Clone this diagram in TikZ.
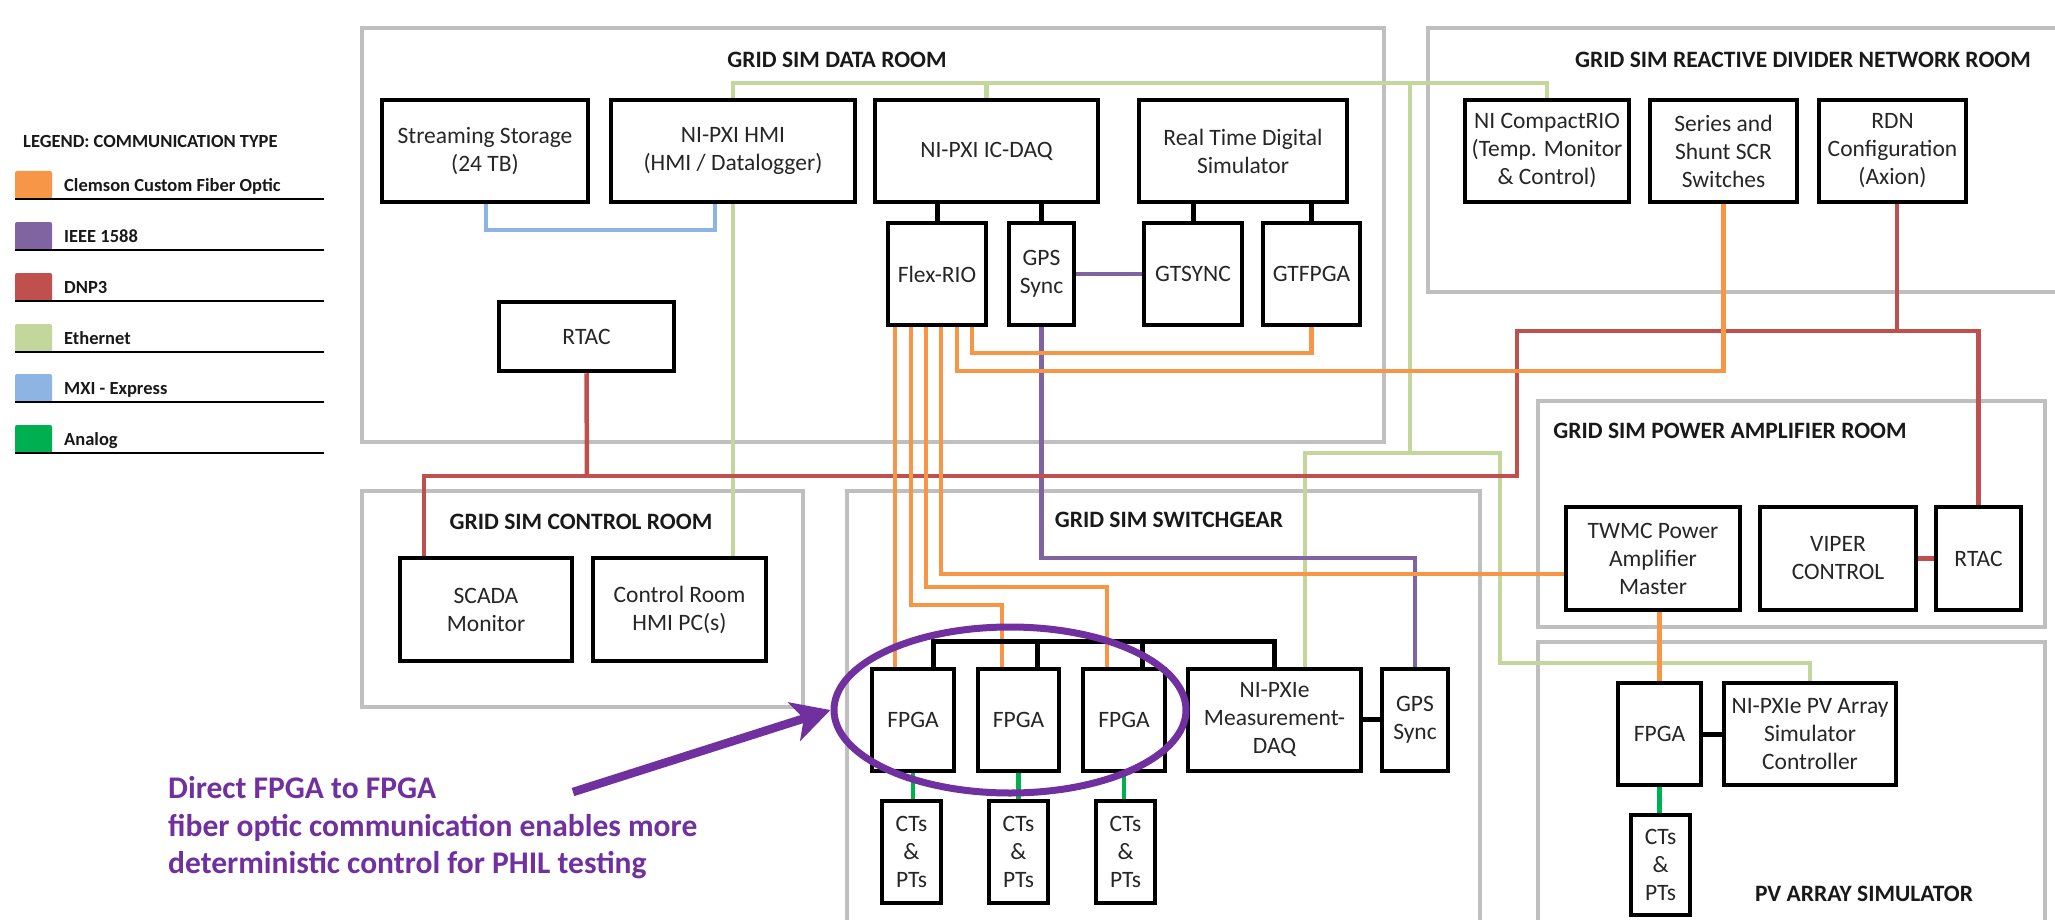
\documentclass[tikz,border=0pt]{standalone}
\usepackage{fontspec}
\setmainfont{Carlito}
\usetikzlibrary{arrows.meta,shapes.geometric}
\definecolor{fiber}{HTML}{F79646}
\definecolor{ieee}{HTML}{8064A2}
\definecolor{dnp}{HTML}{C0504D}
\definecolor{ether}{HTML}{C3D69B}
\definecolor{mxi}{HTML}{8DB4E2}
\definecolor{analog}{HTML}{00B050}
\definecolor{roomgrey}{HTML}{BFBFBF}
\definecolor{note}{HTML}{7030A0}
\definecolor{txt}{HTML}{262626}
\pgfdeclarelayer{bg}
\pgfsetlayers{bg,main}
\newcommand\bx[7][]{%
  \pgfmathsetmacro\bxw{#5-#3-4}%
  \pgfmathsetmacro\bxh{#6-#4-4}%
  \pgfmathsetmacro\bxcx{(#3+#5)/2}%
  \pgfmathsetmacro\bxcy{(#4+#6)/2}%
  \node[devbox,minimum width=\bxw pt,minimum height=\bxh pt,#1] (#2) at (\bxcx,\bxcy) {#7};}
\newcommand\legrow[4]{%
  \node[swatch,fill=#2] (sw#4) at (33.5,#1) {};
  \draw[legline] (15,#1+14) -- (324,#1+14);
  \node[legtext] (lt#4) at (64,#1+6.5) {#3};}
\tikzset{
  devbox/.style={draw=black,line width=4.5pt,fill=white,align=center,inner sep=0pt,text=txt,font=\fontsize{23.5}{28}\selectfont},
  room/.style={draw=roomgrey,line width=4.5pt},
  roomtitle/.style={font=\bfseries\fontsize{23.5}{28}\selectfont,text=black!90,inner sep=0pt},
  link/.style={line width=4.5pt},
  fib/.style={link,draw=fiber},
  ieeel/.style={link,draw=ieee},
  dnpl/.style={link,draw=dnp},
  eth/.style={link,draw=ether},
  mxil/.style={link,draw=mxi},
  ana/.style={link,draw=analog},
  blk/.style={line width=5pt,draw=black},
  swatch/.style={rounded corners=2pt,minimum width=37pt,minimum height=28pt,inner sep=0pt,draw=none},
  legline/.style={line width=1.8pt,draw=black},
  legtext/.style={anchor=base west,inner sep=0pt,font=\bfseries\fontsize{18.5}{22}\selectfont,text=black!90},
  notetext/.style={anchor=base west,inner sep=0pt,text=note,font=\bfseries\fontsize{31.5}{37.5}\selectfont},
}
\begin{document}
\begin{tikzpicture}[x=1pt,y=-1pt]
\useasboundingbox (0,0) rectangle (2055,920);

% legend
\node[anchor=west,inner sep=0pt,font=\bfseries\fontsize{18.5}{22}\selectfont,text=black!90] (legtitle) at (23,142) {LEGEND: COMMUNICATION TYPE};
\legrow{185}{fiber}{Clemson Custom Fiber Optic}{a}
\legrow{236}{ieee}{IEEE 1588}{b}
\legrow{287}{dnp}{DNP3}{c}
\legrow{338}{ether}{Ethernet}{d}
\legrow{388}{mxi}{MXI - Express}{e}
\legrow{439}{analog}{Analog}{f}

% room titles
\node[roomtitle] (tdata) at (837,60) {GRID SIM DATA ROOM};
\node[roomtitle] (trdn) at (1803,60) {GRID SIM REACTIVE DIVIDER NETWORK ROOM};
\node[roomtitle] (tctrl) at (581,522) {GRID SIM CONTROL ROOM};
\node[roomtitle] (tsw) at (1169,520) {GRID SIM SWITCHGEAR};
\node[roomtitle] (tpa) at (1730,431) {GRID SIM POWER AMPLIFIER ROOM};
\node[roomtitle] (tpv) at (1864,894) {PV ARRAY SIMULATOR};

% devices
\bx{stor}{380}{98}{590}{204}{Streaming Storage\\(24 TB)}
\bx{hmi}{609}{98}{857}{204}{NI-PXI HMI\\(HMI / Datalogger)}
\bx{icdaq}{873}{98}{1100}{204}{NI-PXI IC-DAQ}
\bx{rtds}{1137}{98}{1349}{204}{Real Time Digital\\Simulator}
\bx{crio}{1463}{98}{1631}{204}{NI CompactRIO\\(Temp. Monitor\\\& Control)}
\bx{scr}{1648}{98}{1799}{204}{Series and\\Shunt SCR\\Switches}
\bx{rdn}{1817}{98}{1968}{204}{RDN\\Configuration\\(Axion)}
\bx{flex}{886}{221}{988}{327}{Flex-RIO}
\bx{gpsa}{1007}{221}{1076}{327}{GPS\\Sync}
\bx{gtsync}{1142}{221}{1244}{327}{GTSYNC}
\bx{gtfpga}{1261}{221}{1362}{327}{GTFPGA}
\bx{rtaca}{497}{300}{676}{373}{RTAC}
\bx{scada}{398}{556}{574}{663}{SCADA\\Monitor}
\bx{crhmi}{591}{556}{768}{663}{Control Room\\HMI PC(s)}
\bx{fpgaa}{870}{667}{956}{773}{FPGA}
\bx{fpgab}{976}{667}{1061}{773}{FPGA}
\bx{fpgac}{1081}{667}{1167}{773}{FPGA}
\bx{mdaq}{1186}{667}{1363}{773}{NI-PXIe\\Measurement-\\DAQ}
\bx{gpsb}{1380}{667}{1450}{773}{GPS\\Sync}
\bx{cta}{880}{799}{943}{905}{CTs\\\&\\PTs}
\bx{ctb}{987}{799}{1050}{905}{CTs\\\&\\PTs}
\bx{ctc}{1094}{799}{1157}{905}{CTs\\\&\\PTs}
\bx{twmc}{1564}{505}{1742}{612}{TWMC Power\\Amplifier\\Master}
\bx{viper}{1758}{505}{1918}{612}{VIPER\\CONTROL}
\bx{rtacb}{1934}{505}{2023}{612}{RTAC}
\bx{fpgad}{1616}{681}{1703}{787}{FPGA}
\bx{pvsim}{1722}{681}{1898}{787}{NI-PXIe PV Array\\Simulator\\Controller}
\bx{ctd}{1629}{813}{1692}{917}{CTs\\\&\\PTs}

\coordinate (ethj) at (1410,83);
\coordinate (dnpj) at (587,476);

\begin{pgfonlayer}{bg}
% rooms
\draw[room] (362,28) rectangle (1384,442);
\draw[room] (2070,28) -- (1428,28) -- (1428,292) -- (2070,292);
\draw[room] (1538,401) rectangle (2045,627);
\draw[room] (362,491) rectangle (803,707);
\draw[room] (847,940) -- (847,491) -- (1480,491) -- (1480,940);
\draw[room] (1538,940) -- (1538,642) -- (2045,642) -- (2045,940);

% Ethernet
\draw[eth] (hmi.north) -- (hmi.north |- 0,83) -- (crio.north |- 0,83) -- (crio.north);
\draw[eth] (icdaq.north) -- (icdaq.north |- 0,83);
\draw[eth] (ethj) -- (1410,453);
\draw[eth] (mdaq.north -| 1305,0) -- (1305,453) -- (1500,453) -- (1500,663) -- (pvsim.north |- 0,663) -- (pvsim.north);
\draw[eth] (hmi.south) -- (crhmi.north -| hmi.south);

% MXI
\draw[mxil] (stor.south -| 486,0) -- (486,230) -- (715,230) -- (hmi.south -| 715,0);

% IEEE 1588
\draw[ieeel] (gpsa.east) -- (gtsync.west);
\draw[ieeel] (gpsa.south) -- (gpsa.south |- 0,558) -- (gpsb.north |- 0,558) -- (gpsb.north);

% DNP3
\draw[dnpl] (rtaca.south) -- (dnpj);
\draw[dnpl] (scada.north -| 424,0) -- (424,476) -- (1517,476) -- (1517,331) -- (rtacb.north |- 0,331) -- (rtacb.north);
\draw[dnpl] (rdn.south -| 1897,0) -- (1897,331);
\draw[dnpl] (viper.east) -- (rtacb.west);

% Fiber
\draw[fib] (flex.south -| 895,0) -- (fpgaa.north -| 895,0);
\draw[fib] (flex.south -| 911,0) -- (911,605) -- (1002,605) -- (fpgab.north -| 1002,0);
\draw[fib] (flex.south -| 926,0) -- (926,587) -- (1107,587) -- (fpgac.north -| 1107,0);
\draw[fib] (flex.south -| 941,0) -- (941,574) -- (twmc.west |- 0,574);
\draw[fib] (flex.south -| 957,0) -- (957,371) -- (scr.south |- 0,371) -- (scr.south);
\draw[fib] (flex.south -| 972,0) -- (972,353) -- (gtfpga.south |- 0,353) -- (gtfpga.south);
\draw[fib] (twmc.south -| fpgad.north) -- (fpgad.north);

% Analog
\draw[ana] (fpgaa.south) -- (cta.north -| fpgaa.south);
\draw[ana] (fpgab.south) -- (ctb.north -| fpgab.south);
\draw[ana] (fpgac.south) -- (ctc.north -| fpgac.south);
\draw[ana] (fpgad.south) -- (ctd.north -| fpgad.south);

% black links
\draw[blk] (flex.north |- icdaq.south) -- (flex.north);
\draw[blk] (gpsa.north |- icdaq.south) -- (gpsa.north);
\draw[blk] (gtsync.north |- rtds.south) -- (gtsync.north);
\draw[blk] (gtfpga.north |- rtds.south) -- (gtfpga.north);
\draw[blk] (fpgaa.north -| 933,0) -- (933,641) -- (1274,641) -- (mdaq.north -| 1274,0);
\draw[blk] (1037,641) -- (fpgab.north -| 1037,0);
\draw[blk] (1142,641) -- (fpgac.north -| 1142,0);
\draw[blk] (mdaq.east |- 0,719) -- (gpsb.west |- 0,719);
\draw[blk] (fpgad.east) -- (pvsim.west);
\end{pgfonlayer}

% annotation
\node[draw=note,line width=7pt,ellipse,minimum width=352pt,minimum height=166pt,inner sep=0pt] (ring) at (1010,710) {};
\coordinate (tail) at (573,792);
\draw[draw=note,line width=8.5pt,-{Stealth[length=38pt,width=40pt,inset=10pt]}] (tail) -- (ring.west);
\node[notetext] (notea) at (168,798) {Direct FPGA to FPGA};
\node[notetext] (noteb) at (168,836) {fiber optic communication enables more};
\node[notetext] (notec) at (168,873) {deterministic control for PHIL testing};
\end{tikzpicture}
\end{document}
